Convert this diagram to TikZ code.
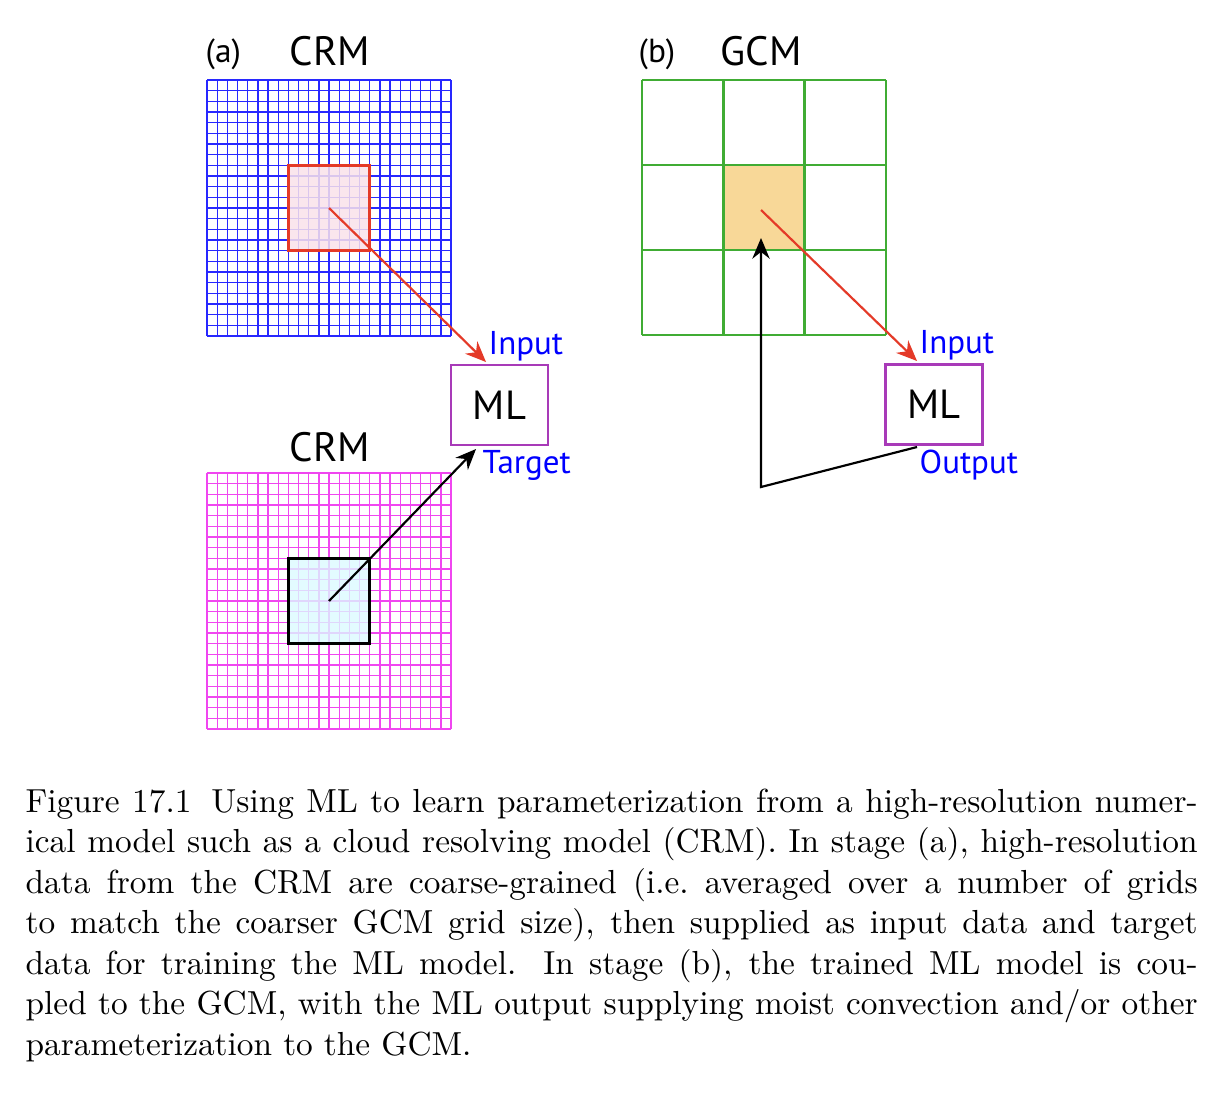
\documentclass[tikz,border=0pt]{standalone}
\usepackage{fontspec}
\newfontfamily\diag{PT Sans}
\usetikzlibrary{arrows.meta,calc}
\definecolor{gridblue}{RGB}{40,40,255}
\definecolor{gridmag}{RGB}{240,70,240}
\definecolor{redline}{RGB}{228,58,40}
\definecolor{pinkfill}{RGB}{250,226,234}
\definecolor{cyanfill}{RGB}{220,250,255}
\definecolor{gcmgreen}{RGB}{64,172,52}
\definecolor{wheatfill}{RGB}{248,216,152}
\definecolor{mlpurple}{RGB}{168,58,184}
\definecolor{lblblue}{RGB}{0,0,255}
\newcommand\capline[1]{\hbox to 351.6pt{#1}}
\begin{document}
\begin{tikzpicture}[x=0.3pt,y=-0.3pt,
  gridline/.style={line width=0.4pt},
  mlbox/.style={draw=mlpurple, line width=0.85pt, minimum width=29.1pt, minimum height=24pt, inner sep=0pt, font=\diag\fontsize{12.2}{14}\selectfont},
  lbl/.style={text=lblblue, font=\diag\fontsize{9.9}{11}\selectfont, inner sep=0pt},
  ttl/.style={font=\diag\fontsize{12.3}{14}\selectfont, inner sep=0pt},
  tag/.style={font=\diag\fontsize{10}{12}\selectfont, inner sep=0pt},
  arr/.style={line width=0.65pt, -{Stealth[length=6.2pt,width=5.2pt]}},
  subbox/.style={line width=0.9pt, minimum width=24.4pt, minimum height=25.6pt, inner sep=0pt},
]
\fill[white] (0,0) rectangle (1222,1100);
\useasboundingbox (0,0) rectangle (1222,1100);

% ---- (a) top CRM grid
\foreach \i in {0,...,24}{
  \draw[gridblue,gridline] ({207+\i*244/24},80) -- ({207+\i*244/24},336);
  \draw[gridblue,gridline] (207,{80+\i*256/24}) -- (451,{80+\i*256/24});
}
\node[subbox, draw=redline, fill=pinkfill, fill opacity=0.85] (crmbox) at (329,208) {};

% ---- (a) bottom CRM grid
\foreach \i in {0,...,24}{
  \draw[gridmag,gridline] ({207+\i*244/24},473) -- ({207+\i*244/24},729);
  \draw[gridmag,gridline] (207,{473+\i*256/24}) -- (451,{473+\i*256/24});
}
\node[subbox, draw=black, fill=cyanfill, fill opacity=0.8] (tgtbox) at (329,601) {};

% ---- (b) GCM grid
\node[fill=wheatfill, minimum width=24.4pt, minimum height=25.5pt, inner sep=0pt] (gcmc) at (764,207.5) {};
\foreach \i in {0,...,3}{
  \draw[gcmgreen, line width=0.85pt] ({642+\i*244/3},80) -- ({642+\i*244/3},335);
  \draw[gcmgreen, line width=0.85pt] (642,{80+\i*85}) -- (886,{80+\i*85});
}

% ---- ML boxes
\node[mlbox] (mla) at (499.5,405) {ML};
\node[mlbox] (mlb) at (934,404.5) {ML};

% ---- titles and labels
\node[tag, anchor=base west] (ta) at (205,62) {(a)};
\node[ttl, anchor=base west] (crm1) at (289,65) {CRM};
\node[tag, anchor=base west] (tb) at (638,62) {(b)};
\node[ttl, anchor=base west] (gcm) at (720,65) {GCM};
\node[ttl, anchor=base west] (crm2) at (289,461) {CRM};
\node[lbl, anchor=base west] (inAlbl) at (488,354) {Input};
\node[lbl, anchor=base west] (tgtlbl) at (482,473) {Target};
\node[lbl, anchor=base west] (inBlbl) at (919,353) {Input};
\node[lbl, anchor=base west] (outlbl) at (919,473) {Output};

% ---- connectors
\coordinate (inA) at (486,362);
\coordinate (tgtA) at (476,449);
\coordinate (inB) at (917,361);
\coordinate (outB) at (917,447);
\coordinate (bend) at (761,487);
\coordinate (retB) at (761,238);
\coordinate (gcmstart) at (761,210);
\draw[arr, redline] (crmbox.center) -- (inA);
\draw[arr, black] (tgtbox.center) -- (tgtA);
\draw[arr, redline] (gcmstart) -- (inB);
\draw[arr, black] (outB) -- (bend) -- (retB);

% ---- caption
\node[anchor=base west, inner sep=0pt, align=left] (caption) at (25,812) {\fontsize{10}{12.15}\selectfont\vtop{\baselineskip=12.15pt
\capline{Figure 17.1\hspace{0.6em}Using ML to learn parameterization from a high-resolution numer-}
\capline{ical model such as a cloud resolving model (CRM). In stage (a), high-resolution}
\capline{data from the CRM are coarse-grained (i.e.\ averaged over a number of grids}
\capline{to match the coarser GCM grid size), then supplied as input data and target}
\capline{data for training the ML model.  In stage (b), the trained ML model is cou-}
\capline{pled to the GCM, with the ML output supplying moist convection and/or other}
\hbox{parameterization to the GCM.}}};
\end{tikzpicture}
\end{document}
